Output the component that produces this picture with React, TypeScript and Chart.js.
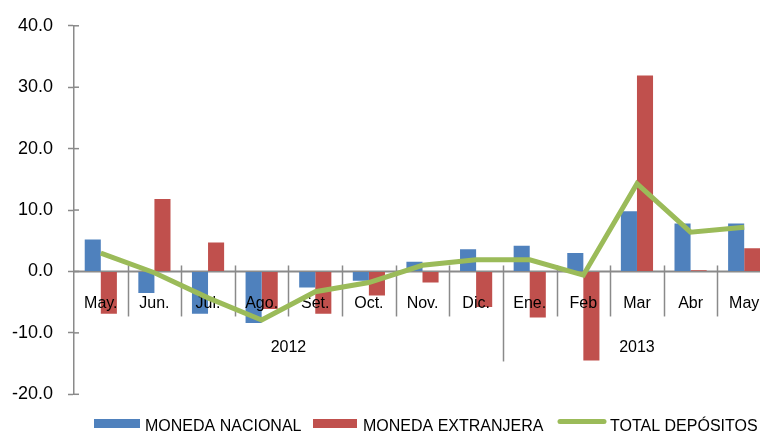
import React, { useEffect, useRef } from 'react';
import { Chart, registerables } from 'chart.js';

Chart.register(...registerables);

const months = ['May.', 'Jun.', 'Jul.', 'Ago.', 'Set.', 'Oct.', 'Nov.', 'Dic.', 'Ene.', 'Feb', 'Mar', 'Abr', 'May'];
const years = ['2012', '2013'];
const yearSpans = [8, 5];
const monedaNacional = [5.2, -3.5, -6.9, -8.4, -2.6, -1.5, 1.6, 3.6, 4.2, 3.0, 9.8, 7.8, 7.8];
const monedaExtranjera = [-6.9, 11.8, 4.7, -6.1, -6.9, -3.9, -1.8, -5.8, -7.5, -14.5, 31.9, 0.2, 3.8];
const totalDepositos = [3.0, -0.2, -4.3, -7.9, -3.3, -1.8, 1.0, 1.9, 1.9, -0.6, 14.3, 6.4, 7.2];
const seriesNames = ['MONEDA NACIONAL', 'MONEDA EXTRANJERA', 'TOTAL DEPÓSITOS'];
const yMin = -20;
const yMax = 40;
const yStep = 10;

const BLUE = '#4F81BD';
const RED = '#C0504D';
const GREEN = '#9BBB59';
const GRAY = '#8a8a8a';
const FONT = '"Liberation Sans", Arial, sans-serif';

const customPlugin = {
  id: 'customDraw',
  beforeDatasetsDraw(chart: any) {
    const { ctx, chartArea, scales } = chart;
    const x = scales.x;
    const y = scales.y;
    const y0 = y.getPixelForValue(0);
    const cw = x.getPixelForValue(1) - x.getPixelForValue(0);
    ctx.save();
    ctx.strokeStyle = GRAY;
    ctx.lineWidth = 2;
    ctx.beginPath();
    ctx.moveTo(chartArea.left, y0);
    ctx.lineTo(chartArea.right, y0);
    ctx.stroke();
    const yearBounds: number[] = [];
    let acc = 0;
    yearSpans.forEach((s) => { acc += s; yearBounds.push(acc); });
    ctx.lineWidth = 1.5;
    for (let i = 1; i <= months.length; i++) {
      const bx = Math.round(x.getPixelForValue(i - 1) + cw / 2) + 0.5;
      const isYear = yearBounds.includes(i) && i < months.length;
      ctx.beginPath();
      ctx.moveTo(bx, y0 - 6);
      ctx.lineTo(bx, y0 + (isYear ? 90 : 45));
      ctx.stroke();
    }
    ctx.lineWidth = 1.5;
    for (let v = yMin; v <= yMax; v += yStep) {
      const py = y.getPixelForValue(v);
      ctx.beginPath();
      ctx.moveTo(chartArea.left, py);
      ctx.lineTo(chartArea.left + 5, py);
      ctx.stroke();
    }
    ctx.restore();
  },
  afterDatasetDraw(chart: any, args: any) {
    if (args.index !== 0) return;
    const { ctx, scales } = chart;
    const x = scales.x;
    const y = scales.y;
    const y0 = y.getPixelForValue(0);
    ctx.save();
    ctx.fillStyle = '#000';
    ctx.font = `16px ${FONT}`;
    ctx.textAlign = 'center';
    ctx.textBaseline = 'alphabetic';
    months.forEach((m, i) => {
      ctx.fillText(m, x.getPixelForValue(i), y0 + 36.5);
    });
    let start = 0;
    years.forEach((yr, j) => {
      const end = start + yearSpans[j] - 1;
      const cx = (x.getPixelForValue(start) + x.getPixelForValue(end)) / 2;
      ctx.fillText(yr, cx, y0 + 81);
      start += yearSpans[j];
    });
    ctx.restore();
  },
  afterDraw(chart: any) {
    const { ctx } = chart;
    ctx.save();
    ctx.font = `16px ${FONT}`;
    ctx.textAlign = 'left';
    ctx.textBaseline = 'alphabetic';
    ctx.fillStyle = BLUE;
    ctx.fillRect(94, 419, 46, 9);
    ctx.fillStyle = '#000';
    ctx.fillText(seriesNames[0], 145, 431);
    ctx.fillStyle = RED;
    ctx.fillRect(313, 419, 44, 9);
    ctx.fillStyle = '#000';
    ctx.fillText(seriesNames[1], 363, 431);
    ctx.strokeStyle = GREEN;
    ctx.lineWidth = 5;
    ctx.lineCap = 'round';
    ctx.beginPath();
    ctx.moveTo(560, 421.5);
    ctx.lineTo(604, 421.5);
    ctx.stroke();
    ctx.fillStyle = '#000';
    ctx.fillText(seriesNames[2], 610, 431);
    ctx.restore();
  },
};

export default function App() {
  const ref = useRef<HTMLCanvasElement>(null);
  useEffect(() => {
    if (!ref.current) return;
    const chart = new Chart(ref.current, {
      type: 'bar',
      data: {
        labels: months,
        datasets: [
          {
            type: 'bar',
            label: seriesNames[0],
            data: monedaNacional,
            backgroundColor: BLUE,
            borderWidth: 0,
            order: 1,
            categoryPercentage: 0.6,
            barPercentage: 1,
          },
          {
            type: 'bar',
            label: seriesNames[1],
            data: monedaExtranjera,
            backgroundColor: RED,
            borderWidth: 0,
            order: 1,
            categoryPercentage: 0.6,
            barPercentage: 1,
          },
          {
            type: 'line',
            label: seriesNames[2],
            data: totalDepositos,
            borderColor: GREEN,
            backgroundColor: GREEN,
            borderWidth: 5,
            pointRadius: 0,
            tension: 0,
            fill: false,
            order: 0,
          } as any,
        ],
      },
      options: {
        responsive: false,
        animation: false,
        events: [],
        layout: { padding: { top: 24, bottom: 37.7, left: 0, right: 29 } },
        plugins: {
          legend: { display: false },
          tooltip: { enabled: false },
          title: { display: false },
        },
        scales: {
          x: { display: false, offset: true },
          y: {
            min: yMin,
            max: yMax,
            afterFit: (scale: any) => { scale.width = 74; },
            ticks: {
              stepSize: yStep,
              callback: (v: any) => Number(v).toFixed(1),
              font: { family: FONT, size: 18 },
              color: '#000',
              padding: 15,
            },
            grid: {
              drawOnChartArea: false,
              drawTicks: true,
              tickLength: 6,
              tickColor: GRAY,
              tickWidth: 1.5,
            },
            border: { display: true, color: GRAY, width: 1.5 },
          },
        },
      },
      plugins: [customPlugin],
    });
    return () => chart.destroy();
  }, []);
  return (
    <div style={{ position: 'fixed', left: 0, top: 0, width: 760, height: 432, overflow: 'hidden', background: '#fff' }}>
      <canvas ref={ref} width={800} height={432} style={{ display: 'block' }} />
    </div>
  );
}
